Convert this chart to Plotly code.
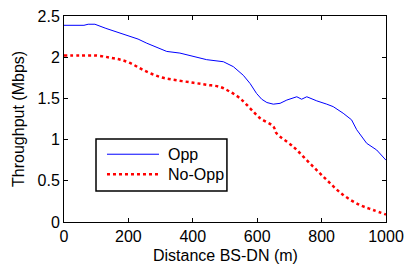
import plotly.graph_objects as go

dist_opp = [0, 62, 75, 96, 130, 174, 195, 230, 257, 298, 319, 360, 402, 443, 495, 526, 557, 578, 598, 614, 630, 650, 671, 692, 723, 738, 754, 785, 816, 836, 867, 893, 909, 940, 971, 1000]
thr_opp = [2.387, 2.387, 2.40, 2.40, 2.35, 2.29, 2.27, 2.22, 2.17, 2.10, 2.07, 2.05, 2.01, 1.97, 1.945, 1.885, 1.78, 1.68, 1.56, 1.49, 1.45, 1.43, 1.44, 1.48, 1.52, 1.49, 1.52, 1.47, 1.43, 1.40, 1.32, 1.24, 1.12, 0.955, 0.874, 0.75]

dist_noopp = [0, 50, 101, 143, 175, 205, 246, 298, 350, 402, 443, 484, 516, 547, 578, 609, 650, 660, 712, 764, 816, 867, 919, 960, 1000]
thr_noopp = [2.02, 2.02, 2.02, 1.995, 1.97, 1.93, 1.845, 1.76, 1.72, 1.69, 1.665, 1.64, 1.58, 1.50, 1.38, 1.26, 1.16, 1.076, 0.914, 0.71, 0.51, 0.328, 0.206, 0.146, 0.09]

x_ticks = [0, 200, 400, 600, 800, 1000]
y_ticks = [0, 0.5, 1, 1.5, 2, 2.5]
y_tick_labels = ["0", "0.5", "1", "1.5", "2", "2.5"]
series_names = ["Opp", "No-Opp"]
series_colors = ["#0000ff", "#ff0000"]

fig = go.Figure()
fig.add_trace(go.Scatter(x=dist_opp, y=thr_opp, mode="lines", name=series_names[0],
                         line=dict(color=series_colors[0], width=1)))
fig.add_trace(go.Scatter(x=dist_noopp, y=thr_noopp, mode="lines", name=series_names[1],
                         line=dict(color=series_colors[1], width=2.5, dash="dot", shape="spline")))

axis_common = dict(showgrid=False, zeroline=False, showline=True, linecolor="black",
                   linewidth=1, mirror="ticks", ticks="inside", ticklen=4,
                   tickcolor="black", tickfont=dict(size=16, color="black"),
                   automargin=False)

# manual legend (box, sample lines, labels) in paper coordinates
legend_shapes = [
    dict(type="rect", xref="paper", yref="paper", x0=0.0994, x1=0.506, y0=0.150, y1=0.403,
         line=dict(color="black", width=1.5), fillcolor="white", layer="above"),
    dict(type="line", xref="paper", yref="paper", x0=0.1335, x1=0.295, y0=0.329, y1=0.329,
         line=dict(color=series_colors[0], width=1), layer="above"),
    dict(type="line", xref="paper", yref="paper", x0=0.1335, x1=0.295, y0=0.2316, y1=0.2316,
         line=dict(color=series_colors[1], width=2.5, dash="dot"), layer="above"),
]
legend_labels = [
    dict(text=series_names[0], xref="paper", yref="paper", x=0.3168, y=0.329,
         xanchor="left", yanchor="middle", showarrow=False, font=dict(size=16)),
    dict(text=series_names[1], xref="paper", yref="paper", x=0.3168, y=0.2316,
         xanchor="left", yanchor="middle", showarrow=False, font=dict(size=16)),
]

fig.update_layout(
    template="none",
    width=406, height=266,
    margin=dict(l=64, r=20, t=16, b=44),
    paper_bgcolor="white", plot_bgcolor="white",
    font=dict(family="Liberation Sans, Arial", size=16, color="black"),
    xaxis=dict(range=[0, 1000], tickvals=x_ticks, **axis_common),
    yaxis=dict(range=[0, 2.5], tickvals=y_ticks, ticktext=y_tick_labels, **axis_common),
    showlegend=False,
    shapes=legend_shapes,
    annotations=[
        dict(text="Distance BS-DN (m)", xref="paper", yref="paper", x=0.5, y=-0.165,
             xanchor="center", yanchor="middle", showarrow=False, font=dict(size=16)),
        dict(text="Throughput (Mbps)", xref="paper", yref="paper", x=-0.143, y=0.5,
             xanchor="center", yanchor="middle", showarrow=False, textangle=-90, font=dict(size=16)),
    ] + legend_labels,
)

fig.write_html("out.html", config={"displayModeBar": False},
               post_script="document.body.style.margin='0';document.body.style.overflow='hidden';")
